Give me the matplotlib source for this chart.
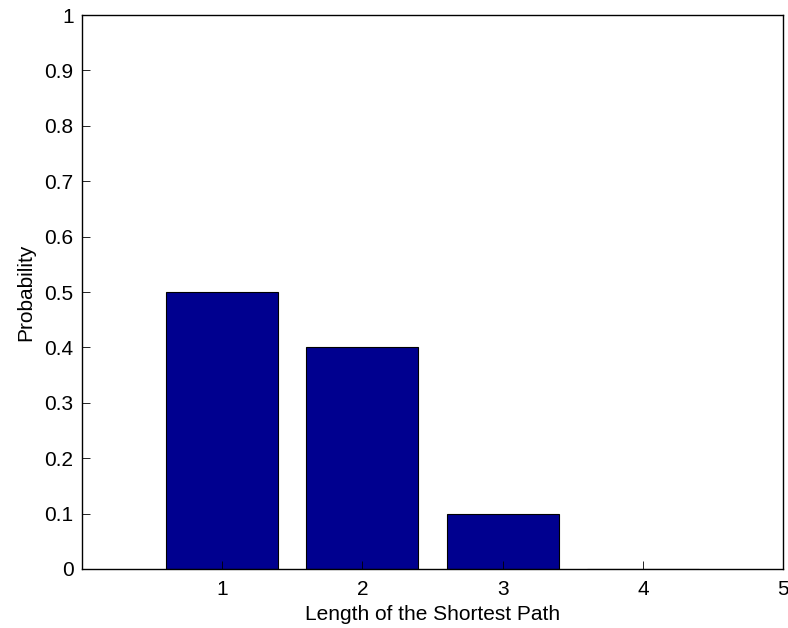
import matplotlib.pyplot as plt

# shortest path length distribution
path_lengths = [1, 2, 3, 4]
probabilities = [0.5, 0.4, 0.1, 0.0]
x_ticks = [1, 2, 3, 4, 5]
y_ticks = [0, 0.1, 0.2, 0.3, 0.4, 0.5, 0.6, 0.7, 0.8, 0.9, 1]
y_tick_labels = ['0', '0.1', '0.2', '0.3', '0.4', '0.5', '0.6', '0.7', '0.8', '0.9', '1']

plt.rcParams['font.family'] = ['Liberation Sans', 'DejaVu Sans']
plt.rcParams['font.size'] = 15

fig = plt.figure(figsize=(7.88, 6.28), dpi=100)
ax = fig.add_axes([0.104, 0.094, 0.8897, 0.882])

ax.bar(path_lengths, probabilities, width=0.8, color='#00008f',
       edgecolor='black', linewidth=0.8)

ax.set_xlim(0, 5)
ax.set_ylim(0, 1)
ax.set_xticks(x_ticks)
ax.set_yticks(y_ticks)
ax.set_yticklabels(y_tick_labels)
ax.tick_params(direction='in', length=6, width=0.6, labelsize=15)
ax.tick_params(axis='x', pad=8)
ax.tick_params(axis='y', pad=6)
for sp in ax.spines.values():
    sp.set_linewidth(1.0)

ax.set_xlabel('Length of the Shortest Path', fontsize=15, labelpad=4.5)
ax.set_ylabel('Probability', fontsize=15, labelpad=6.5)

fig.savefig('out.png', dpi=100)
